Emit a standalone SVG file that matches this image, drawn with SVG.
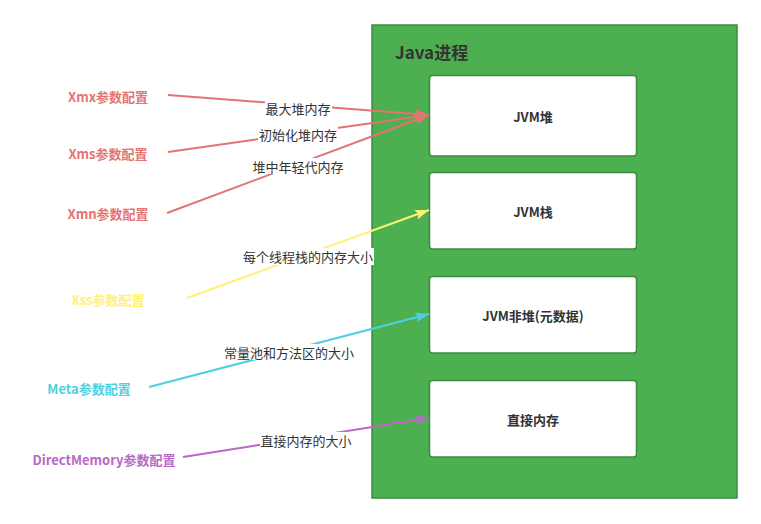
<svg xmlns="http://www.w3.org/2000/svg" width="761" height="524" viewBox="0 0 761 524">
  <style>
    text { font-family: "Noto Sans CJK SC", "Liberation Sans", sans-serif; dominant-baseline: central; }
    .box { fill: #ffffff; stroke: #3c8c3f; stroke-width: 1.5; }
    .boxtxt { font-size: 13px; font-weight: bold; fill: #333333; text-anchor: middle; }
    .src { font-size: 13px; font-weight: bold; text-anchor: middle; }
    .lbl { font-size: 13px; fill: #333333; text-anchor: middle; }
    .lblbg { fill: #ffffff; }
    .edge { fill: none; stroke-width: 2; }
  </style>
  <defs>
    <marker id="arrRed" viewBox="0 0 14 10" refX="14" refY="5" markerWidth="14" markerHeight="10" markerUnits="userSpaceOnUse" orient="auto">
      <path d="M0,0 L14,5 L0,10 L3,5 Z" fill="#E57373"/>
    </marker>
    <marker id="arrYellow" viewBox="0 0 14 10" refX="14" refY="5" markerWidth="14" markerHeight="10" markerUnits="userSpaceOnUse" orient="auto">
      <path d="M0,0 L14,5 L0,10 L3,5 Z" fill="#FFF176"/>
    </marker>
    <marker id="arrCyan" viewBox="0 0 14 10" refX="14" refY="5" markerWidth="14" markerHeight="10" markerUnits="userSpaceOnUse" orient="auto">
      <path d="M0,0 L14,5 L0,10 L3,5 Z" fill="#4DD0E1"/>
    </marker>
    <marker id="arrPurple" viewBox="0 0 14 10" refX="14" refY="5" markerWidth="14" markerHeight="10" markerUnits="userSpaceOnUse" orient="auto">
      <path d="M0,0 L14,5 L0,10 L3,5 Z" fill="#BA68C8"/>
    </marker>
  </defs>

  <!-- Java process container -->
  <g id="java-process">
    <rect x="372" y="25" width="365" height="473" fill="#4CAF50" stroke="#3c8c3f" stroke-width="1.5"/>
    <text x="395" y="51" font-size="17" font-weight="bold" fill="#333333">Java进程</text>
  </g>

  <g id="jvm-heap">
    <rect class="box" x="429.5" y="75.5" width="207" height="80.5" rx="3"/>
    <text class="boxtxt" x="533" y="116">JVM堆</text>
  </g>
  <g id="jvm-stack">
    <rect class="box" x="429.5" y="172.5" width="207" height="76.5" rx="3"/>
    <text class="boxtxt" x="533" y="211">JVM栈</text>
  </g>
  <g id="jvm-nonheap">
    <rect class="box" x="429.5" y="276.5" width="207" height="76.5" rx="3"/>
    <text class="boxtxt" x="533" y="315">JVM非堆(元数据)</text>
  </g>
  <g id="direct-memory">
    <rect class="box" x="429.5" y="380.5" width="207" height="76.5" rx="3"/>
    <text class="boxtxt" x="533" y="419">直接内存</text>
  </g>

  <!-- parameter sources -->
  <g id="xmx"><text class="src" x="108" y="96" fill="#E57373">Xmx参数配置</text></g>
  <g id="xms"><text class="src" x="108" y="153" fill="#E57373">Xms参数配置</text></g>
  <g id="xmn"><text class="src" x="108" y="213" fill="#E57373">Xmn参数配置</text></g>
  <g id="xss"><text class="src" x="108" y="299" fill="#FFF176">Xss参数配置</text></g>
  <g id="meta"><text class="src" x="89" y="388" fill="#4DD0E1">Meta参数配置</text></g>
  <g id="directmemory"><text class="src" x="104" y="459" fill="#BA68C8">DirectMemory参数配置</text></g>

  <!-- connectors -->
  <g id="connectors">
    <line class="edge" x1="168" y1="95" x2="429" y2="115" stroke="#E57373" marker-end="url(#arrRed)"/>
    <line class="edge" x1="168" y1="152" x2="429" y2="115" stroke="#E57373" marker-end="url(#arrRed)"/>
    <line class="edge" x1="167" y1="213" x2="429" y2="115" stroke="#E57373" marker-end="url(#arrRed)"/>
    <line class="edge" x1="187" y1="298" x2="429" y2="210" stroke="#FFF176" marker-end="url(#arrYellow)"/>
    <line class="edge" x1="149" y1="387" x2="429" y2="314" stroke="#4DD0E1" marker-end="url(#arrCyan)"/>
    <line class="edge" x1="183" y1="457" x2="429" y2="418" stroke="#BA68C8" marker-end="url(#arrPurple)"/>

    <rect class="lblbg" x="265" y="100" width="67" height="16"/>
    <text class="lbl" x="298" y="108">最大堆内存</text>
    <rect class="lblbg" x="258" y="126" width="80" height="16"/>
    <text class="lbl" x="298" y="134">初始化堆内存</text>
    <rect class="lblbg" x="252" y="158" width="93" height="16"/>
    <text class="lbl" x="298" y="166">堆中年轻代内存</text>
    <rect class="lblbg" x="243" y="248" width="131" height="17"/>
    <text class="lbl" x="308" y="256.5">每个线程栈的内存大小</text>
    <rect class="lblbg" x="223" y="344" width="132" height="16"/>
    <text class="lbl" x="289" y="352">常量池和方法区的大小</text>
    <rect class="lblbg" x="260" y="432" width="93" height="16"/>
    <text class="lbl" x="306" y="440">直接内存的大小</text>
  </g>
</svg>
